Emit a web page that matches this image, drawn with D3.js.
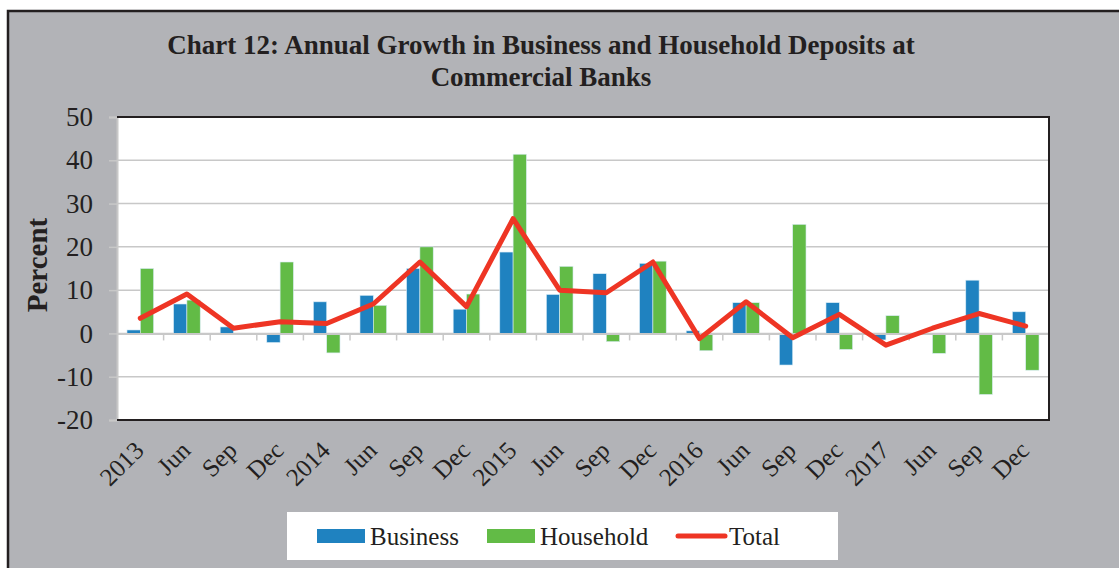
<!DOCTYPE html>
<html>
<head>
  <meta charset="utf-8">
  <title>Chart 12</title>
  <script src="https://d3js.org/d3.v7.min.js" charset="utf-8"></script>
  <style>
  body {margin: 0; background: #fff;}
  svg text {font-family: "Liberation Serif", "Times New Roman", serif; fill: #231f20;}
  </style>
</head>
<body>
<script>
// chart values
const categories = ["2013", "Jun", "Sep", "Dec", "2014", "Jun ", "Sep ", "Dec ", "2015", "Jun  ", "Sep  ", "Dec  ",
                    "2016", "Jun   ", "Sep   ", "Dec   ", "2017", "Jun    ", "Sep    ", "Dec    "];
const business  = [0.8, 6.8, 1.5, -2.1, 7.3, 8.8, 15.0, 5.6, 18.8, 9.0, 13.8, 16.2, 0.6, 7.1, -7.3, 7.1, -1.5, -0.3, 12.3, 5.0];
const household = [15.0, 7.7, 0.0, 16.5, -4.5, 6.5, 20.0, 9.1, 41.4, 15.5, -1.9, 16.7, -4.0, 7.1, 25.2, -3.7, 4.1, -4.6, -14.1, -8.5];
const total     = [3.5, 9.1, 1.2, 2.7, 2.3, 6.8, 16.5, 6.2, 26.5, 10.0, 9.4, 16.5, -1.2, 7.3, -1.0, 4.4, -2.7, 1.2, 4.6, 1.7];
const yTicks = [-20, -10, 0, 10, 20, 30, 40, 50];
const seriesNames = ["Business", "Household", "Total"];
const colors = {Business: "#1f82c0", Household: "#62bb46", Total: "#ee3524"};

const width = 1119, height = 568;
const plot = {left: 117, right: 1049, top: 117, bottom: 420};

const svg = d3.select("body").append("svg")
              .attr("width", width)
              .attr("height", height);

// gray frame
svg.append("rect")
   .attr("x", 8).attr("y", 11)
   .attr("width", width + 20).attr("height", height + 20)
   .attr("fill", "#b2b3b7")
   .attr("stroke", "#231f20")
   .attr("stroke-width", 2.5);

// title
svg.append("text")
   .attr("x", 541).attr("y", 54)
   .attr("text-anchor", "middle")
   .attr("font-weight", "bold")
   .attr("font-size", "27px")
   .text("Chart 12: Annual Growth in Business and Household Deposits at");
svg.append("text")
   .attr("x", 541).attr("y", 86)
   .attr("text-anchor", "middle")
   .attr("font-weight", "bold")
   .attr("font-size", "27px")
   .text("Commercial Banks");

// scales
const xScale = d3.scaleBand().domain(categories).range([plot.left, plot.right]);
const bw = xScale.bandwidth();
const xInner = d3.scaleBand()
                 .domain(["Business", "Household"])
                 .range([bw * 0.75 / 3.5, bw - bw * 0.75 / 3.5]);
const yScale = d3.scaleLinear().domain([-20, 50]).range([plot.bottom, plot.top]);

// plot background
svg.append("rect")
   .attr("x", plot.left).attr("y", plot.top)
   .attr("width", plot.right - plot.left).attr("height", plot.bottom - plot.top)
   .attr("fill", "#fff");

// gridlines
svg.append("g")
   .selectAll("line")
   .data(yTicks.filter(d => d > -20 && d < 50))
   .join("line")
   .attr("x1", plot.left).attr("x2", plot.right)
   .attr("y1", d => yScale(d)).attr("y2", d => yScale(d))
   .attr("stroke", "#c8c8c8")
   .attr("stroke-width", 1.5);

// y axis
const yAxis = d3.axisLeft(yScale).tickValues(yTicks).tickSize(8).tickPadding(16)
                .tickFormat(d => String(d));
const gy = svg.append("g")
              .attr("transform", `translate(${plot.left},0)`)
              .call(yAxis);
gy.select(".domain").attr("stroke", "#c8c8c8").attr("stroke-width", 2);
gy.selectAll(".tick line").attr("stroke", "#c8c8c8").attr("stroke-width", 1.5);
gy.selectAll(".tick text")
  .attr("font-family", "Liberation Serif, serif")
  .attr("font-size", "27px")
  .attr("fill", "#231f20");

svg.append("text")
   .attr("transform", "translate(47,265) rotate(-90)")
   .attr("text-anchor", "middle")
   .attr("font-weight", "bold")
   .attr("font-size", "29px")
   .text("Percent");

// bars
const barData = categories.map((c, i) => ({cat: c, Business: business[i], Household: household[i]}));
const groups = svg.append("g")
                  .selectAll("g")
                  .data(barData)
                  .join("g")
                  .attr("transform", d => `translate(${xScale(d.cat)},0)`);
groups.selectAll("rect")
      .data(d => ["Business", "Household"].map(k => ({key: k, value: d[k]})))
      .join("rect")
      .attr("x", d => xInner(d.key))
      .attr("width", xInner.bandwidth())
      .attr("y", d => yScale(Math.max(0, d.value)))
      .attr("height", d => Math.abs(yScale(d.value) - yScale(0)))
      .attr("fill", d => colors[d.key])
      .attr("stroke", "#d9ecf5")
      .attr("stroke-width", 0.6);

// x axis at zero
const xAxis = d3.axisBottom(xScale).tickSize(0).tickFormat("");
const gx = svg.append("g")
              .attr("transform", `translate(0,${yScale(0)})`)
              .call(xAxis);
gx.select(".domain").attr("stroke", "#c8c8c8").attr("stroke-width", 2);
svg.append("g")
   .selectAll("line")
   .data(categories.slice(1))
   .join("line")
   .attr("x1", d => xScale(d)).attr("x2", d => xScale(d))
   .attr("y1", yScale(0)).attr("y2", yScale(0) + 7)
   .attr("stroke", "#c8c8c8")
   .attr("stroke-width", 1.5);

// total line
const line = d3.line()
               .x((d, i) => xScale(categories[i]) + bw / 2)
               .y(d => yScale(d));
svg.append("path")
   .datum(total)
   .attr("d", line)
   .attr("fill", "none")
   .attr("stroke", colors.Total)
   .attr("stroke-width", 5)
   .attr("stroke-linejoin", "round")
   .attr("stroke-linecap", "round");

// plot border (top, right, bottom)
svg.append("path")
   .attr("d", `M${plot.left},${plot.top}H${plot.right}V${plot.bottom}H${plot.left}`)
   .attr("fill", "none")
   .attr("stroke", "#231f20")
   .attr("stroke-width", 2);

// x labels, rotated
svg.append("g")
   .selectAll("text")
   .data(categories)
   .join("text")
   .attr("transform", d => `translate(${xScale(d) + bw / 2 + 5},${plot.bottom + 32}) rotate(-45)`)
   .attr("text-anchor", "end")
   .attr("font-size", "25px")
   .text(d => d.trim());

// legend
const legend = svg.append("g");
legend.append("rect")
      .attr("x", 287).attr("y", 512)
      .attr("width", 551).attr("height", 48)
      .attr("fill", "#fff");
const legX = [317, 487, 676];
const items = legend.selectAll("g")
                    .data(seriesNames)
                    .join("g")
                    .attr("transform", (d, i) => `translate(${legX[i]},0)`);
items.filter(d => d !== "Total")
     .append("rect")
     .attr("x", 0).attr("y", 529)
     .attr("width", 48).attr("height", 14)
     .attr("fill", d => colors[d]);
items.filter(d => d === "Total")
     .append("line")
     .attr("x1", 2).attr("x2", 49)
     .attr("y1", 536).attr("y2", 536)
     .attr("stroke", colors.Total)
     .attr("stroke-width", 5)
     .attr("stroke-linecap", "round");
items.append("text")
     .attr("x", 53)
     .attr("y", 545)
     .attr("font-size", "25px")
     .text(d => d);
</script>
</body>
</html>
